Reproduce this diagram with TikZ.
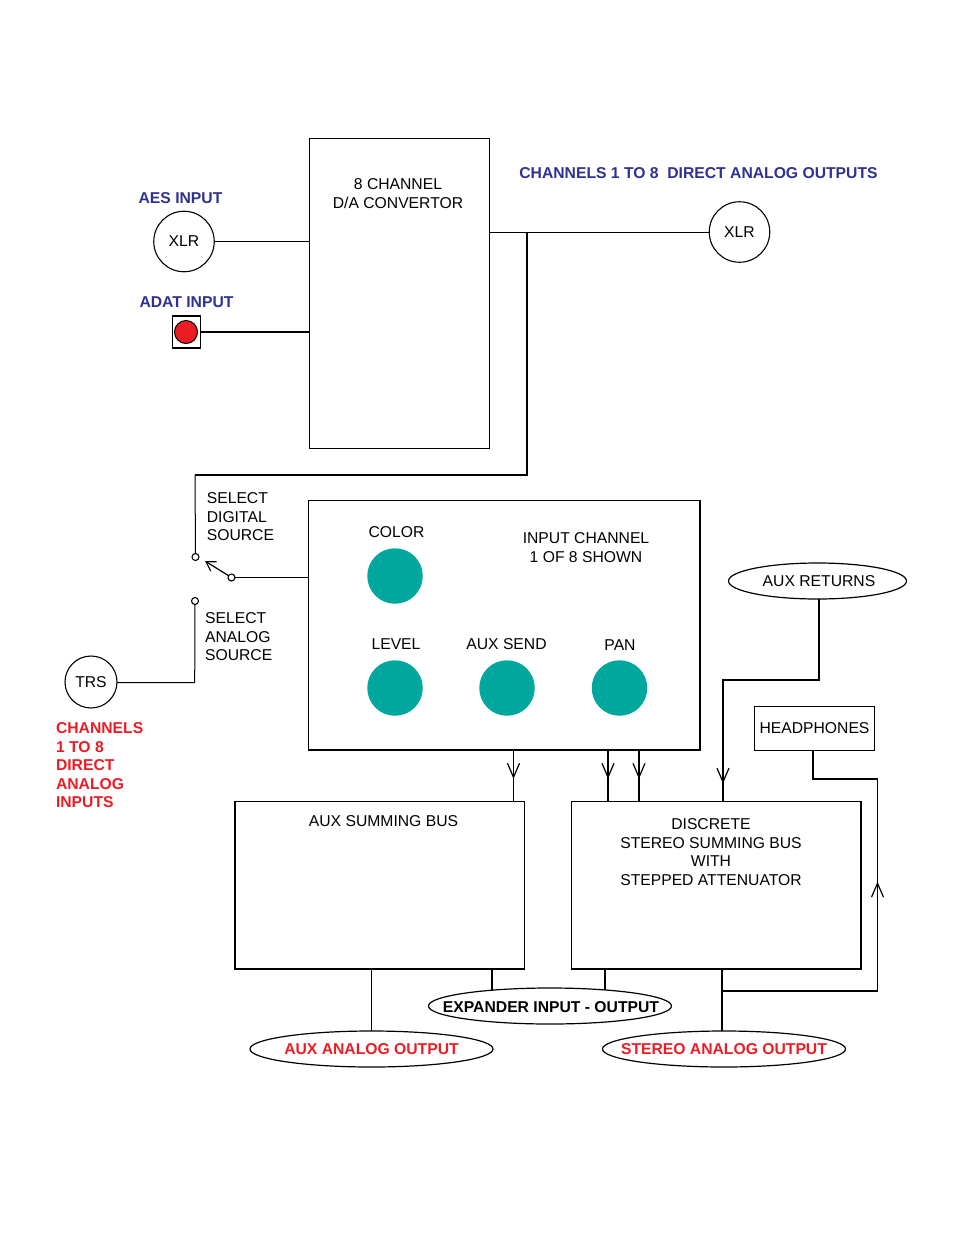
\documentclass[tikz,border=0pt]{standalone}
\usepackage{fontspec}
\usepackage{xcolor}
\setmainfont{Liberation Sans}
\usetikzlibrary{arrows.meta,shapes.geometric,decorations.markings}
\definecolor{labelblue}{HTML}{2E3192}
\definecolor{labelred}{HTML}{ED1C24}
\definecolor{knobteal}{HTML}{00A79D}

\begin{document}
\begin{tikzpicture}[
    x=1pt, y=-1pt,
    font=\fontsize{15.7}{18.5}\selectfont,
    every node/.style ={outer sep=0pt},
    panel/.style      ={draw, line width=1.5pt, rectangle, inner sep=0pt},
    jack/.style       ={draw, line width=1.1pt, circle, inner sep=0pt, minimum size=#1},
    knob/.style       ={circle, fill=knobteal, inner sep=0pt, minimum size=55.5pt},
    contact/.style    ={draw, line width=1.1pt, circle, fill=white, inner sep=0pt, minimum size=7pt},
    oval/.style       ={draw, line width=1.2pt, ellipse, inner sep=0pt, minimum width=243pt, minimum height=36pt},
    boldlabel/.style  ={font=\fontsize{15.7}{18.5}\selectfont\bfseries},
    bluelabel/.style  ={boldlabel, text=labelblue},
    redlabel/.style   ={boldlabel, text=labelred},
    thinline/.style   ={line width=1pt},
    wireline/.style   ={line width=1.05pt},
    heavyline/.style  ={line width=2pt},
    midtip/.style     ={postaction={decorate}, decoration={markings,
                        mark=at position #1 with {\arrow[line width=1.2pt]{Straight Barb[length=14pt, width=12pt]}}}}
]
\useasboundingbox (0,0) rectangle (954,1235);

% --- converter and its inputs ---
\node[panel, line width=1pt, minimum width=180pt, minimum height=310pt] (conv) at (399.5,293) {};
\node[align=center] (convtext) at (398,193.5) {8 CHANNEL\\D/A CONVERTOR};

\node[bluelabel] (aeslabel) at (180.5,198) {AES INPUT};
\node[jack=60.5pt] (xlrin) at (184,241.5) {XLR};
\draw[thinline] (xlrin.east) -- (conv.west |- xlrin.east);

\node[bluelabel] (adatlabel) at (186.5,302) {ADAT INPUT};
\node[draw, line width=1.6pt, minimum width=28pt, minimum height=32pt, inner sep=0pt] (adat) at (186.5,332) {};
\node[draw, line width=1pt, circle, fill=labelred, inner sep=0pt, minimum size=23pt] (adatled) at (186,332) {};
\draw[heavyline] (adat.east) -- (conv.west |- adat.east);

% --- direct outputs ---
\node[bluelabel] (outlabel) at (698.5,173) {CHANNELS 1 TO 8\ \ DIRECT ANALOG OUTPUTS};
\node[jack=60.5pt] (xlrout) at (739.5,232) {XLR};
\draw[thinline] (conv.east |- xlrout.west) -- (xlrout.west);

% --- input channel ---
\node[panel, minimum width=391.5pt, minimum height=249.5pt] (chan) at (504.25,625.25) {};
\node[align=center] (chantext) at (586,547.5) {INPUT CHANNEL\\1 OF 8 SHOWN};
\node (colorlabel) at (396.5,532) {COLOR};
\node (levellabel) at (396,644) {LEVEL};
\node (sendlabel)  at (506.5,644) {AUX SEND};
\node (panlabel)   at (620,645) {PAN};
\node[knob] (colorknob) at (395,576) {};
\node[knob] (levelknob) at (395,688) {};
\node[knob] (sendknob)  at (507,688) {};
\node[knob] (panknob)   at (619.5,688) {};

% --- source switch ---
\coordinate (tap) at (527,233);
\coordinate (busturn) at (527,475);
\coordinate (busdrop) at (195,475);
\node[contact] (digcontact) at (195.5,557) {};
\node[contact] (anacontact) at (195,601) {};
\node[contact] (pivot) at (231.5,577.5) {};
\coordinate (leverend) at (205,561);
\coordinate (anabend) at (194.7,682.5);
\node[anchor=west, align=left] (diglabel) at (203.5,517) {SELECT\\DIGITAL\\SOURCE};
\node[anchor=west, align=left] (analabel) at (201.8,637) {SELECT\\ANALOG\\SOURCE};
\node[jack=52pt] (trs) at (91,682) {TRS};
\node[redlabel, anchor=west, align=left] (trslabel) at (52.7,765.5) {CHANNELS\\1 TO 8\\DIRECT\\ANALOG\\INPUTS};

\draw[heavyline] (tap) -- (busturn) -- (busdrop);
\draw[thinline] (busdrop) -- (digcontact.north);
\draw[thinline] (anacontact.south) -- (anabend) -- (trs.east |- anabend);
\draw[line width=1.2pt, -{Straight Barb[length=9pt, width=11pt]}] (pivot) -- (leverend);
\draw[thinline] (pivot.east) -- (chan.west |- pivot.east);

% --- summing buses ---
\node[panel, minimum width=289.5pt, minimum height=167.5pt] (auxbus) at (379.75,885.25) {};
\node (auxtext) at (383.5,821) {AUX SUMMING BUS};
\node[panel, minimum width=289.5pt, minimum height=167.5pt] (stereobus) at (716.25,885.25) {};
\node[align=center] (stereotext) at (711,852) {DISCRETE\\STEREO SUMMING BUS\\WITH\\STEPPED ATTENUATOR};

\node[oval, minimum width=178pt, label={[xshift=1.5pt]center:{AUX RETURNS}}] (returns) at (817.5,581) {};
\node[draw, thinline, minimum width=120pt, minimum height=44.5pt, inner sep=0pt] (phones) at (814.5,728.25) {HEADPHONES};
\node[oval, label={[boldlabel, xshift=1pt, yshift=-1pt]center:{EXPANDER INPUT - OUTPUT}}] (expander) at (550,1006) {};
\node[oval, label={[redlabel]center:{AUX ANALOG OUTPUT}}] (auxout) at (371.5,1049) {};
\node[oval, label={[redlabel]center:{STEREO ANALOG OUTPUT}}] (stereoout) at (724,1049) {};

% --- channel to buses ---
\draw[thinline, midtip=0.56] (chan.south -| 513.5,0) -- (auxbus.north -| 513.5,0);
\draw[heavyline, midtip=0.56] (chan.south -| 608,0) -- (stereobus.north -| 608,0);
\draw[heavyline, midtip=0.56] (chan.south -| 639,0) -- (stereobus.north -| 639,0);

% --- returns and headphones ---
\coordinate (retturn) at (819,680);
\coordinate (retdrop) at (723,680);
\draw[wireline, midtip=0.94] (returns.south -| retturn) -- (retturn) -- (retdrop) -- (stereobus.north -| retdrop);

\coordinate (phonedrop) at (813,779);
\coordinate (phoneturn) at (877.5,779);
\coordinate (feedturn) at (877.5,991);
\coordinate (feedstart) at (722,991);
\draw[wireline, midtip=0.575] (feedstart) -- (feedturn) -- (phoneturn) -- (phonedrop) -- (phones.south -| phonedrop);

% --- bottom outputs ---
\draw[thinline] (auxbus.south -| auxout.north) -- (auxout.north);
\draw[line width=1.5pt] (auxbus.south -| 492,0) -- (492,989.5);
\draw[line width=1.5pt] (stereobus.south -| 605,0) -- (605,989.5);
\draw[heavyline] (stereobus.south -| feedstart) -- (feedstart |- stereoout.north);

\end{tikzpicture}
\end{document}
